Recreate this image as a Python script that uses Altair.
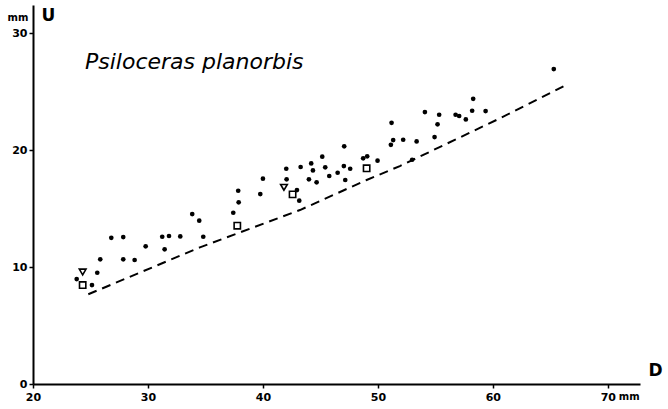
import altair as alt
import pandas as pd

# Data (D in mm, U in mm)
dot_d = [23.80, 25.13, 25.59, 25.85, 26.81, 27.85, 27.85, 28.84, 29.80, 31.24,
         31.83, 31.45, 32.81, 33.85, 34.46, 34.81, 37.42, 37.85, 37.89, 39.77,
         40.00, 42.03, 42.06, 42.96, 43.16, 43.28, 44.20, 44.35, 44.00, 44.67,
         45.16, 45.42, 45.77, 46.50, 47.07, 47.04, 47.16, 47.59, 48.72, 49.07,
         49.97, 51.19, 51.33, 51.13, 52.20, 53.37, 52.98, 54.93, 54.09, 55.19,
         55.33, 56.76, 57.07, 57.65, 58.20, 58.29, 59.37, 65.30]
dot_u = [8.97, 8.46, 9.51, 10.66, 12.50, 12.56, 10.66, 10.60, 11.77, 12.59,
         12.65, 11.51, 12.62, 14.53, 13.96, 12.59, 14.64, 16.52, 15.53, 16.24,
         17.55, 18.40, 17.50, 16.58, 15.67, 18.55, 18.86, 18.26, 17.50, 17.24,
         19.43, 18.52, 17.78, 18.06, 20.32, 18.63, 17.44, 18.40, 19.29, 19.46,
         19.09, 22.33, 20.85, 20.45, 20.88, 20.74, 19.17, 21.11, 23.25, 22.20,
         23.02, 23.02, 22.91, 22.62, 23.36, 24.38, 23.33, 26.92]

square_d = [24.32, 37.77, 42.58, 49.02]
square_u = [8.46, 13.53, 16.21, 18.44]

tri_d = [24.32, 41.83]
tri_u = [9.57, 16.81]

line_d = [24.81, 34.52, 43.22, 49.02, 51.91, 60.61, 66.41]
line_u = [7.67, 11.68, 14.87, 17.44, 18.63, 22.71, 25.58]

x_ticks = [20, 30, 40, 50, 60, 70]
y_ticks = [0, 10, 20, 30]

FONT = "DejaVu Sans"

dots = pd.DataFrame({"D": dot_d, "U": dot_u})
squares = pd.DataFrame({"D": square_d, "U": square_u})
tris = pd.DataFrame({"D": tri_d, "U": tri_u})
line = pd.DataFrame({"D": line_d, "U": line_u})

xs = alt.Scale(domain=[20, 72.8], nice=False, zero=False)
ys = alt.Scale(domain=[0, 32.4], nice=False, zero=False)

xaxis = alt.Axis(values=x_ticks, title="D", grid=False, domainColor="black",
                 domainWidth=2, tickColor="black", tickWidth=1.5, tickSize=4,
                 labelFont=FONT, labelFontSize=11, labelFontWeight="bold",
                 labelColor="black", labelPadding=3, labelFlush=False,
                 titleFont=FONT, titleFontSize=17, titleFontWeight="bold",
                 titleColor="black", titleX=622, titleY=-14, titleAlign="center",
                 titleBaseline="middle", titleAnchor=None)
yaxis = alt.Axis(values=y_ticks, title="U", grid=False, domainColor="black",
                 domainWidth=2, tickColor="black", tickWidth=1.5, tickSize=4,
                 labelFont=FONT, labelFontSize=11, labelFontWeight="bold",
                 labelColor="black", labelPadding=2, labelFlush=False,
                 titleFont=FONT, titleFontSize=17, titleFontWeight="bold",
                 titleColor="black", titleAngle=0, titleX=15, titleY=10,
                 titleAlign="center", titleBaseline="middle")

base_x = alt.X("D:Q", scale=xs, axis=xaxis)
base_y = alt.Y("U:Q", scale=ys, axis=yaxis)

dot_layer = alt.Chart(dots).mark_circle(size=22, color="black", opacity=1).encode(
    x=base_x, y=base_y)
sq_layer = alt.Chart(squares).mark_point(shape="square", size=40, color="black",
                                          strokeWidth=1.6, filled=False, opacity=1).encode(
    x="D:Q", y="U:Q")
tri_layer = alt.Chart(tris).mark_point(shape="triangle-down", size=45, color="black",
                                        strokeWidth=1.6, filled=False, opacity=1).encode(
    x="D:Q", y="U:Q")
line_layer = alt.Chart(line).mark_line(color="black", strokeWidth=2,
                                       strokeDash=[9, 6]).encode(x="D:Q", y="U:Q")

species = alt.Chart(pd.DataFrame({"D": [24.52], "U": [27.5], "t": ["Psiloceras planorbis"]})).mark_text(
    font=FONT, fontSize=22, fontStyle="italic", align="left", baseline="middle",
    color="black").encode(x="D:Q", y="U:Q", text="t:N")

mm_y = alt.Chart(pd.DataFrame({"D": [20], "U": [30], "t": ["mm"]})).mark_text(
    font=FONT, fontSize=10, fontWeight="bold", align="center", baseline="middle",
    dx=-15, dy=-15, color="black").encode(x="D:Q", y="U:Q", text="t:N")
mm_x = alt.Chart(pd.DataFrame({"D": [70], "U": [0], "t": ["mm"]})).mark_text(
    font=FONT, fontSize=10, fontWeight="bold", align="left", baseline="middle",
    dx=11, dy=13, color="black").encode(x="D:Q", y="U:Q", text="t:N")

chart = alt.layer(line_layer, dot_layer, sq_layer, tri_layer, species, mm_y, mm_x).properties(
    width=607, height=379,
    autosize=alt.AutoSizeParams(type="none"),
    padding={"left": 33, "top": 5, "right": 28, "bottom": 25},
    background="white",
).configure_view(stroke=None)

chart.save("out.html", embed_options={"renderer": "svg", "actions": False})
